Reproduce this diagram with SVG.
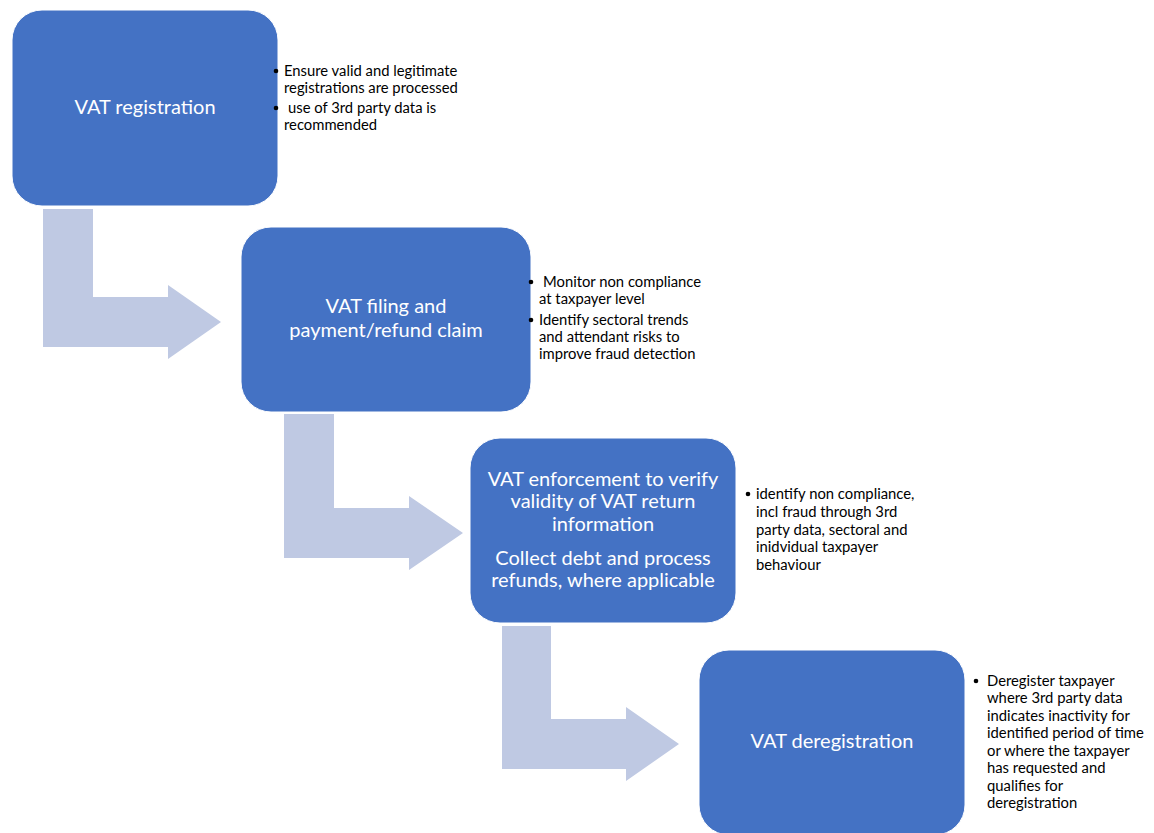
<svg xmlns="http://www.w3.org/2000/svg" width="1154" height="833" viewBox="0 0 1154 833">
<style>
.box{fill:#4472C4;stroke:#ffffff;stroke-width:1}
.arr{fill:#BFC9E3}
.title{font-family:Lato,"Open Sans","Liberation Sans",sans-serif;font-size:20px;fill:#ffffff;text-anchor:middle}
.note{font-family:Lato,"Open Sans","Liberation Sans",sans-serif;font-size:14.8px;fill:#000000}
.dot{fill:#000000}
</style>
<rect width="1154" height="833" fill="#ffffff"/>
<g id="connectors">
<path class="arr" d="M43,209 H93 V297 H168 V285 L221,322 L168,359 V347 H43 Z"/>
<path class="arr" d="M284,414 H334 V508 H409 V496 L463,533 L409,570 V558 H284 Z"/>
<path class="arr" d="M502,626 H551 V719 H626 V707 L679,744 L626,781 V769 H502 Z"/>
</g>
<g id="node1">
<rect class="box" x="12" y="10" width="266" height="196" rx="30" ry="30"/>
<text class="title" x="145" y="114">VAT registration</text>
</g>
<g id="note1">
<circle class="dot" cx="276" cy="71" r="2.3"/>
<circle class="dot" cx="276" cy="108" r="2.3"/>
<text class="note"><tspan x="284" y="76">Ensure valid and legitimate</tspan><tspan x="284" y="93">registrations are processed</tspan><tspan x="288" y="113">use of 3rd party data is</tspan><tspan x="284" y="130">recommended</tspan></text>
</g>
<g id="node2">
<rect class="box" x="241" y="227" width="290" height="185" rx="30" ry="30"/>
<text class="title"><tspan x="386" y="313">VAT filing and</tspan><tspan x="386" y="337">payment/refund claim</tspan></text>
</g>
<g id="note2">
<circle class="dot" cx="531" cy="282" r="2.3"/>
<circle class="dot" cx="531" cy="320" r="2.3"/>
<text class="note"><tspan x="543" y="287">Monitor non compliance</tspan><tspan x="539" y="304">at taxpayer level</tspan><tspan x="539" y="325">Identify sectoral trends</tspan><tspan x="539" y="342">and attendant risks to</tspan><tspan x="539" y="359">improve fraud detection</tspan></text>
</g>
<g id="node3">
<rect class="box" x="470" y="438" width="266" height="185" rx="30" ry="30"/>
<text class="title"><tspan x="603" y="486">VAT enforcement to verify</tspan><tspan x="603" y="508">validity of VAT return</tspan><tspan x="603" y="531">information</tspan><tspan x="603" y="565">Collect debt and process</tspan><tspan x="603" y="587">refunds, where applicable</tspan></text>
</g>
<g id="note3">
<circle class="dot" cx="748" cy="494" r="2.3"/>
<text class="note"><tspan x="756" y="499">identify non compliance,</tspan><tspan x="756" y="517">incl fraud through 3rd</tspan><tspan x="756" y="535">party data, sectoral and</tspan><tspan x="756" y="552">inidvidual taxpayer</tspan><tspan x="756" y="570">behaviour</tspan></text>
</g>
<g id="node4">
<rect class="box" x="699" y="650" width="266" height="185" rx="30" ry="30"/>
<text class="title" x="832" y="748">VAT deregistration</text>
</g>
<g id="note4">
<circle class="dot" cx="976" cy="681" r="2.3"/>
<text class="note"><tspan x="987" y="686">Deregister taxpayer</tspan><tspan x="987" y="703">where 3rd party data</tspan><tspan x="987" y="721">indicates inactivity for</tspan><tspan x="987" y="738">identified period of time</tspan><tspan x="987" y="756">or where the taxpayer</tspan><tspan x="987" y="773">has requested and</tspan><tspan x="987" y="791">qualifies for</tspan><tspan x="987" y="808">deregistration</tspan></text>
</g>
</svg>
